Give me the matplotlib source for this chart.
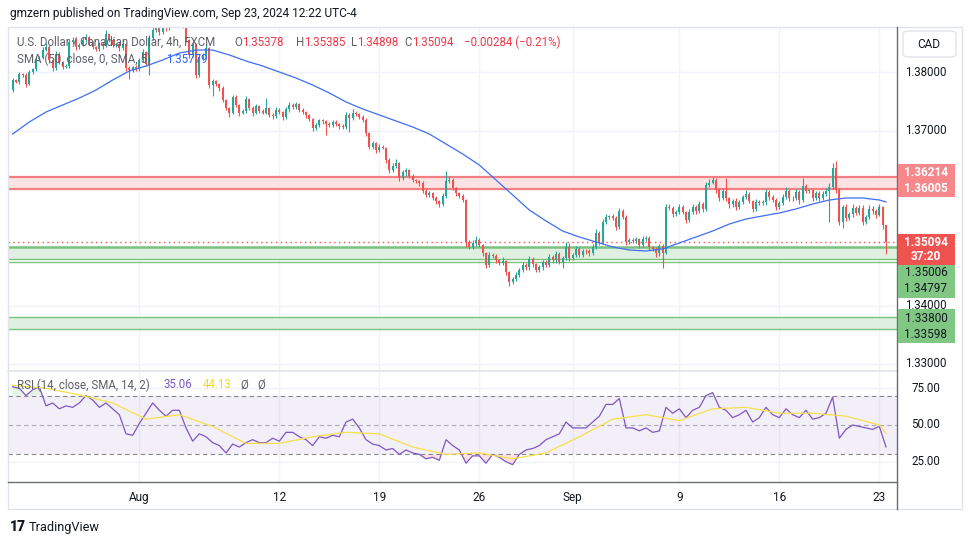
import numpy as np
import matplotlib.pyplot as plt
import matplotlib.transforms as mtransforms
from matplotlib.patches import Rectangle, FancyBboxPatch
from matplotlib.lines import Line2D

plt.rcParams['font.family'] = ['Roboto', 'DejaVu Sans']

# USDCAD 4h candles (FXCM), late Jul -> Sep 23 2024
first_open = 1.3770
closes = [
    1.3787, 1.3784, 1.3797, 1.3796, 1.3780, 1.3801, 1.3806, 1.3823, 1.3825, 1.3839,
    1.3844, 1.3821, 1.3808, 1.3832, 1.3818, 1.3809, 1.3811, 1.3852, 1.3856, 1.3844,
    1.3847, 1.3856, 1.3861, 1.3851, 1.3844, 1.3840, 1.3849, 1.3845, 1.3866, 1.3856,
    1.3847, 1.3849, 1.3842, 1.3849, 1.3808, 1.3804, 1.3809, 1.3806, 1.3821, 1.3835,
    1.3815, 1.3859, 1.3873, 1.3883, 1.3869, 1.3890, 1.3876, 1.3893, 1.3904, 1.3887,
    1.3907, 1.3881, 1.3856, 1.3830, 1.3847, 1.3796, 1.3827, 1.3830, 1.3842, 1.3779,
    1.3785, 1.3780, 1.3773, 1.3753, 1.3739, 1.3731, 1.3758, 1.3744, 1.3731, 1.3734,
    1.3755, 1.3739, 1.3731, 1.3743, 1.3734, 1.3731, 1.3739, 1.3727, 1.3725, 1.3736,
    1.3732, 1.3724, 1.3737, 1.3744, 1.3741, 1.3746, 1.3736, 1.3732, 1.3727, 1.3720,
    1.3705, 1.3710, 1.3718, 1.3717, 1.3712, 1.3710, 1.3715, 1.3712, 1.3708, 1.3707,
    1.3727, 1.3722, 1.3731, 1.3729, 1.3724, 1.3718, 1.3696, 1.3672, 1.3679, 1.3667,
    1.3672, 1.3671, 1.3650, 1.3633, 1.3640, 1.3645, 1.3619, 1.3629, 1.3633, 1.3623,
    1.3616, 1.3614, 1.3611, 1.3597, 1.3590, 1.3593, 1.3585, 1.3580, 1.3574, 1.3588,
    1.3614, 1.3616, 1.3602, 1.3593, 1.3588, 1.3581, 1.3509, 1.3501, 1.3508, 1.3513,
    1.3504, 1.3490, 1.3470, 1.3487, 1.3486, 1.3478, 1.3473, 1.3477, 1.3458, 1.3441,
    1.3446, 1.3453, 1.3461, 1.3470, 1.3466, 1.3480, 1.3472, 1.3461, 1.3466, 1.3475,
    1.3470, 1.3484, 1.3478, 1.3489, 1.3475, 1.3482, 1.3501, 1.3482, 1.3487, 1.3497,
    1.3487, 1.3494, 1.3493, 1.3490, 1.3501, 1.3525, 1.3509, 1.3544, 1.3552, 1.3553,
    1.3551, 1.3535, 1.3562, 1.3552, 1.3509, 1.3513, 1.3511, 1.3514, 1.3504, 1.3514,
    1.3516, 1.3501, 1.3497, 1.3490, 1.3502, 1.3491, 1.3569, 1.3568, 1.3557, 1.3561,
    1.3569, 1.3560, 1.3547, 1.3561, 1.3569, 1.3562, 1.3574, 1.3566, 1.3607, 1.3611,
    1.3616, 1.3598, 1.3585, 1.3597, 1.3584, 1.3574, 1.3580, 1.3569, 1.3578, 1.3586,
    1.3592, 1.3580, 1.3566, 1.3578, 1.3576, 1.3577, 1.3595, 1.3586, 1.3581, 1.3569,
    1.3576, 1.3586, 1.3597, 1.3585, 1.3584, 1.3595, 1.3581, 1.3605, 1.3597, 1.3598,
    1.3585, 1.3593, 1.3584, 1.3592, 1.3597, 1.3604, 1.3636, 1.3598, 1.3544, 1.3569,
    1.3550, 1.3557, 1.3568, 1.3559, 1.3568, 1.3544, 1.3552, 1.3566, 1.3562, 1.3556,
    1.3569, 1.35378, 1.35094,
]
# wick lengths in pips above / below the candle body
wick_up = [
    3, 2, 4, 2, 3, 4, 2, 5, 3, 4, 6, 3, 2, 4, 3, 2, 3, 5, 4, 3,
    3, 4, 5, 2, 3, 2, 4, 3, 6, 2, 3, 2, 3, 4, 2, 3, 2, 4, 3, 5,
    2, 6, 5, 4, 3, 6, 4, 5, 6, 3, 5, 2, 3, 2, 4, 3, 4, 3, 6, 2,
    3, 2, 2, 3, 2, 2, 4, 3, 2, 3, 4, 2, 3, 3, 2, 3, 17, 2, 3, 4,
    3, 2, 4, 5, 3, 4, 2, 3, 2, 2, 2, 4, 3, 3, 2, 3, 4, 3, 2, 3,
    5, 4, 6, 3, 2, 3, 4, 2, 3, 2, 5, 3, 2, 3, 4, 6, 2, 4, 3, 2,
    3, 2, 2, 3, 3, 4, 2, 3, 2, 5, 17, 6, 3, 2, 2, 3, 2, 3, 4, 6,
    3, 2, 2, 5, 4, 3, 2, 6, 2, 2, 3, 4, 4, 5, 3, 6, 3, 2, 4, 4,
    3, 5, 3, 4, 3, 4, 8, 7, 4, 5, 3, 3, 4, 4, 5, 6, 3, 5, 6, 3,
    4, 3, 6, 4, 3, 3, 3, 4, 2, 6, 4, 3, 2, 3, 4, 3, 6, 5, 3, 3,
    5, 3, 2, 4, 6, 4, 5, 3, 5, 6, 5, 3, 4, 5, 22, 3, 3, 4, 3, 4,
    6, 3, 2, 5, 4, 4, 6, 3, 4, 3, 4, 5, 7, 3, 3, 5, 3, 14, 4, 3,
    3, 4, 3, 4, 5, 6, 8, 12, 4, 4, 5, 3, 6, 3, 5, 4, 4, 6, 5, 3,
    5, 2, 1,
]
wick_dn = [
    3, 2, 3, 4, 5, 2, 3, 4, 3, 2, 3, 4, 5, 3, 4, 3, 2, 3, 4, 5,
    3, 2, 3, 4, 3, 4, 3, 4, 2, 3, 4, 3, 5, 3, 6, 15, 3, 4, 3, 3,
    4, 19, 3, 3, 4, 3, 5, 3, 3, 4, 3, 5, 4, 6, 4, 5, 4, 6, 3, 5,
    20, 3, 4, 3, 4, 8, 3, 4, 5, 3, 4, 3, 5, 3, 4, 3, 3, 4, 5, 3,
    3, 6, 3, 4, 3, 3, 4, 3, 5, 4, 6, 3, 4, 5, 20, 3, 4, 3, 5, 4,
    4, 24, 3, 3, 4, 3, 5, 4, 3, 5, 4, 3, 5, 6, 3, 4, 5, 3, 6, 4,
    3, 4, 5, 3, 4, 4, 3, 5, 4, 3, 4, 3, 3, 5, 4, 3, 8, 4, 3, 5,
    3, 4, 6, 3, 4, 5, 3, 4, 6, 7, 4, 3, 4, 3, 5, 4, 6, 3, 4, 5,
    4, 3, 5, 4, 4, 10, 3, 5, 4, 3, 4, 3, 4, 5, 3, 4, 5, 3, 4, 3,
    4, 5, 3, 4, 5, 3, 4, 3, 5, 4, 3, 5, 4, 6, 4, 26, 3, 4, 5, 3,
    4, 3, 5, 4, 3, 4, 3, 5, 4, 3, 3, 4, 5, 3, 4, 6, 4, 5, 3, 4,
    3, 4, 6, 3, 4, 3, 4, 5, 4, 5, 3, 4, 3, 5, 4, 3, 6, 4, 3, 4,
    5, 3, 4, 3, 4, 53, 3, 4, 5, 10, 4, 3, 5, 4, 3, 6, 4, 3, 4, 5,
    3, 6, 20,
]

# SMA(50) read every 5 bars (+ last bar)
sma_idx = list(range(0, 261, 5)) + [262]
sma50 = [
    1.36945, 1.37151, 1.37322, 1.37442, 1.37562, 1.37699, 1.37871, 1.38025, 1.38111, 1.38214,
    1.38334, 1.38385, 1.38385, 1.38300, 1.38197, 1.38111, 1.38008, 1.37905, 1.37785, 1.37648,
    1.37494, 1.37374, 1.37271, 1.37168, 1.37065, 1.36945, 1.36773, 1.36602, 1.36413, 1.36156,
    1.35899, 1.35641, 1.35453, 1.35281, 1.35178, 1.35093, 1.35007, 1.34955, 1.34938, 1.34973,
    1.35076, 1.35178, 1.35281, 1.35401, 1.35487, 1.35539, 1.35590, 1.35659, 1.35744, 1.35813,
    1.35847, 1.35847, 1.35813, 1.35779,
]

# RSI(14) read every 2nd bar, and its SMA(14) every 10th bar
rsi = [
    76, 75, 70, 74, 76, 63, 65, 61, 63, 62, 65, 70, 67, 62, 65, 61, 57, 44, 43, 51,
    58, 65, 60, 56, 60, 60, 48, 39, 44, 42, 38, 36, 31, 37, 35, 38, 40, 38, 38, 41,
    39, 45, 45, 42, 40, 36, 42, 41, 43, 42, 52, 54, 48, 40, 37, 36, 33, 34, 30, 33,
    31, 30, 27, 28, 26, 40, 36, 33, 24, 29, 29, 24, 30, 28, 25, 23, 30, 33, 34, 36,
    40, 42, 44, 52, 48, 48, 48, 52, 56, 64, 64, 68, 48, 48, 46, 48, 45, 46, 62, 58,
    61, 55, 60, 62, 70, 72, 62, 60, 55, 57, 60, 52, 55, 62, 57, 55, 61, 57, 55, 60,
    54, 55, 58, 69, 41, 47, 50, 49, 48, 47, 49, 35.06,
]
rsi_ma_idx = list(range(0, 261, 10)) + [262]
rsi_ma = [77, 75, 70.5, 65, 54, 57, 49, 37.5, 37.5, 42, 45, 44, 35, 30, 31, 27, 31,
          42, 54, 57, 53, 61, 62, 58, 58, 56, 50, 44.13]

week_pos = [38, 80, 110, 140, 168, 200, 230, 260]
week_lbl = ['Aug', '12', '19', '26', 'Sep', '9', '16', '23']

red_zone = (1.36005, 1.36214)
green_zone = (1.34797, 1.35006)
green_zone2 = (1.33598, 1.33800)
last_price = 1.35094
scale_prices = [1.33, 1.34, 1.37, 1.38]   # the others sit under the tags

UP, DOWN = '#26a69a', '#ef5350'
GRID = '#f0f3fa'
W, H = 970, 545


def frac(x0, y0, x1, y1):
    return [x0 / W, 1 - y1 / H, (x1 - x0) / W, (y1 - y0) / H]


def ftext(x, y, s, **kw):
    kw.setdefault('va', 'center')
    return fig.text(x / W, 1 - y / H, s, **kw)


fig = plt.figure(figsize=(9.7, 5.45), dpi=100)
fig.patch.set_facecolor('white')

closes = np.array(closes)
opens = np.r_[first_open, closes[:-1]]
top = np.maximum(opens, closes)
bot = np.minimum(opens, closes)
highs = top + np.array(wick_up) * 1e-4
lows = bot - np.array(wick_dn) * 1e-4
x = np.arange(len(closes))
cols = np.where(closes >= opens, UP, DOWN)

XL = (-1.4, 265.3)

# ---- price pane
ax = fig.add_axes(frac(8, 27, 897, 370))
ax.set_xlim(*XL)
ax.set_ylim(1.32897, 1.3878)
for s in ax.spines.values():
    s.set_visible(False)
ax.set_xticks([])
ax.set_yticks([])
for p in np.arange(1.33, 1.385, 0.01):
    ax.axhline(p, color=GRID, lw=1, zorder=0)
for w in week_pos:
    ax.axvline(w, color=GRID, lw=1, zorder=0)

ax.axhspan(*red_zone, color='#fde3e4', lw=0, zorder=1)
for p in red_zone:
    ax.axhline(p, color='#f47f83', lw=1.6, zorder=1.5)
ax.axhspan(*green_zone, color='#e0f0e0', lw=0, zorder=1)
ax.axhline(green_zone[1], color='#7cc27f', lw=1.8, zorder=1.5)
ax.axhline(green_zone[0], color='#7cc27f', lw=1.0, zorder=1.5)
ax.axhline(green_zone[0] - 0.0004, color='#7cc27f', lw=1.0, zorder=1.5)
ax.axhspan(*green_zone2, color='#e0f0e0', lw=0, zorder=1)
for p in green_zone2:
    ax.axhline(p, color='#7cc27f', lw=1.0, zorder=1.5)
ax.axhline(last_price, color=DOWN, lw=1, ls=(0, (1, 2.5)), zorder=2)

ax.vlines(x, lows, highs, color=cols, lw=0.8, zorder=3)
ax.bar(x, np.maximum(top - bot, 0.00006), bottom=bot, width=0.65,
       color=cols, lw=0, zorder=3)
ax.plot(sma_idx, sma50, color='#3f6ef5', lw=0.9, zorder=4)

# ---- RSI pane
rx = fig.add_axes(frac(8, 372, 897, 481))
rx.set_xlim(*XL)
rx.set_ylim(11.9, 86.05)
for s in rx.spines.values():
    s.set_visible(False)
rx.set_yticks([])
for w in week_pos:
    rx.axvline(w, color=GRID, lw=1, zorder=0)
for lv in (75, 25):
    rx.axhline(lv, color=GRID, lw=1, zorder=0)
rx.axhspan(30, 70, color='#7e57c2', alpha=0.09, lw=0, zorder=1)
for lv in (70, 50, 30):
    rx.axhline(lv, color='#787b86', lw=0.8, ls=(0, (4, 3)),
               alpha=0.9 if lv != 50 else 0.6, zorder=1.5)
rsi = np.array(rsi, dtype=float)
rsi_x = np.arange(len(rsi)) * 2
rx.fill_between(rsi_x, rsi, 70, where=rsi > 70, interpolate=True,
                color='#4caf50', alpha=0.15, lw=0, zorder=2)
rx.fill_between(rsi_x, rsi, 30, where=rsi < 30, interpolate=True,
                color='#f23645', alpha=0.15, lw=0, zorder=2)
rx.plot(rsi_x, rsi, color='#7e57c2', lw=0.9, zorder=3)
rx.plot(rsi_ma_idx, rsi_ma, color='#f5e04a', lw=0.9, zorder=3)
rx.set_xticks(week_pos)
rx.set_xticklabels(week_lbl, fontsize=8.5, color='#131722')
rx.tick_params(axis='x', length=0, pad=7)

# ---- frame lines
fig.add_artist(Rectangle((8 / W, 1 - 509 / H), 954 / W, 482 / H, transform=fig.transFigure,
                         fill=False, edgecolor='#e0e3eb', lw=1, zorder=1))
fig.add_artist(Line2D([8 / W, 897 / W], [1 - 371 / H] * 2, color='#e0e3eb', lw=1.2, zorder=2))
fig.add_artist(Line2D([8 / W, 897 / W], [1 - 481.5 / H] * 2, color='#6a6d78', lw=1, zorder=2))
fig.add_artist(Line2D([897 / W] * 2, [1 - 27 / H, 1 - 509 / H], color='#6a6d78', lw=1, zorder=2))

# ---- right price scale
trp = mtransforms.blended_transform_factory(fig.transFigure, ax.transData)
for p in scale_prices:
    fig.text(926 / W, p, f'{p:.5f}', transform=trp, ha='center', va='center',
             fontsize=8.3, color='#131722', zorder=4)
trr = mtransforms.blended_transform_factory(fig.transFigure, rx.transData)
for lv in (75, 50, 25):
    fig.text(926 / W, lv, f'{lv:.2f}', transform=trr, ha='center', va='center',
             fontsize=8.3, color='#131722', zorder=4)


def tag(y0, y1, color, rows, tcolor, bold):
    fig.add_artist(Rectangle((898 / W, 1 - y1 / H), 57 / W, (y1 - y0) / H,
                             transform=fig.transFigure, color=color, lw=0, zorder=5))
    for yy, s in rows:
        ftext(926, yy, s, ha='center', fontsize=8.5, color=tcolor,
              fontweight='bold' if bold else 'normal', zorder=6)


tag(164, 197, '#f6878b', [(173, f'{red_zone[1]:.5f}'), (189, f'{red_zone[0]:.5f}')], 'white', True)
tag(234, 265, '#ef5350', [(242, f'{last_price:.5f}'), (257, '37:20')], 'white', True)
tag(265, 298, '#81c784', [(273, f'{green_zone[1]:.5f}'), (289, f'{green_zone[0]:.5f}')], '#131722', False)
tag(309, 343, '#81c784', [(318, f'{green_zone2[1]:.5f}'), (334, f'{green_zone2[0]:.5f}')], '#131722', False)

fig.add_artist(FancyBboxPatch((903 / W, 1 - 57 / H), 53 / W, 26 / H, transform=fig.transFigure,
                              boxstyle='round,pad=0,rounding_size=0.006', facecolor='white',
                              edgecolor='#e0e3eb', lw=1, zorder=5))
ftext(929, 44, 'CAD', ha='center', fontsize=8.5, color='#131722', zorder=6)

# ---- texts
ftext(10, 14, 'gmzern published on TradingView.com, Sep 23, 2024 12:22 UTC-4',
      fontsize=8.6, color='#131722')
LEG = '#5d606b'
ftext(17, 42, 'U.S. Dollar / Canadian Dollar, 4h, FXCM', fontsize=8.3, color=LEG, zorder=6)
for lx, letter, vx, val in [(234, 'O', 242, '1.35378'), (296, 'H', 304, '1.35385'),
                            (351, 'L', 357, '1.34898'), (404, 'C', 412, '1.35094')]:
    ftext(lx, 42, letter, fontsize=8.3, color=LEG, zorder=6)
    ftext(vx, 42, val, fontsize=8.3, color='#f23645', zorder=6)
ftext(464, 42, '\u22120.00284 (\u22120.21%)', fontsize=8.3, color='#f23645', zorder=6)
ftext(17, 59, 'SMA (50, close, 0, SMA, 5)', fontsize=8.3, color=LEG, zorder=6)
ftext(166, 59, '1.35779', fontsize=8.3, color='#2962ff', zorder=6)

ftext(17, 385, 'RSI (14, close, SMA, 14, 2)', fontsize=8.3, color=LEG, zorder=6)
ftext(164, 385, '35.06', fontsize=8.3, color='#7e57c2', zorder=6)
ftext(203, 385, '44.13', fontsize=8.3, color='#f5d820', zorder=6)
ftext(240, 385, '\u00d8', fontsize=8.3, color=LEG, zorder=6)
ftext(257, 385, '\u00d8', fontsize=8.3, color=LEG, zorder=6)

ftext(10, 527, '17', fontsize=10, fontweight='black', color='#131722')
ftext(29, 527, 'TradingView', fontsize=9.2, color='#131722')

fig.savefig('out.png', dpi=100)
